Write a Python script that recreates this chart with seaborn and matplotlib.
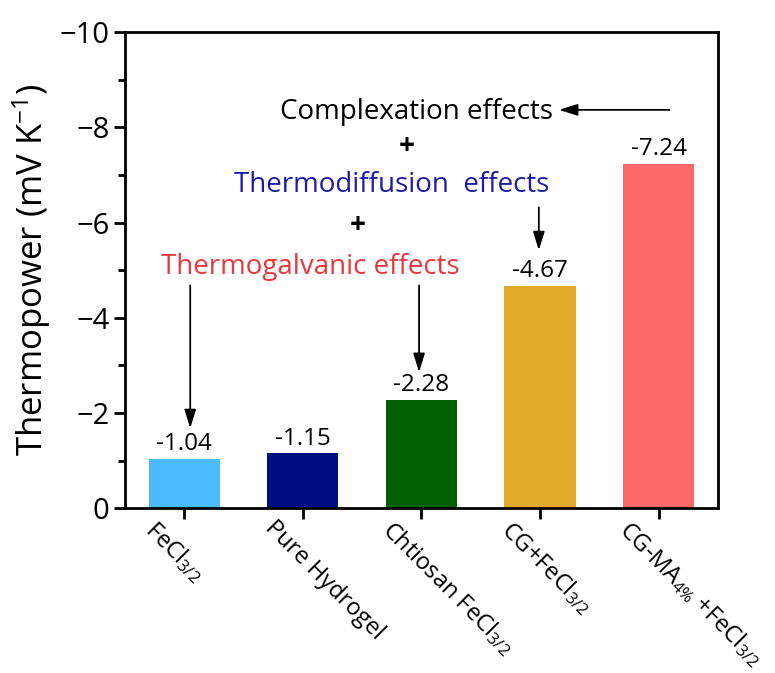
import matplotlib
matplotlib.use("Agg")
import matplotlib.pyplot as plt
import matplotlib.transforms as mtransforms
import seaborn as sns
import numpy as np
import pandas as pd
from matplotlib.ticker import MultipleLocator

categories = ["FeCl$_{3/2}$", "Pure Hydrogel", "Chtiosan FeCl$_{3/2}$",
              "CG+FeCl$_{3/2}$", "CG-MA$_{4\\%}$ +FeCl$_{3/2}$"]
values = [-1.04, -1.15, -2.28, -4.67, -7.24]
value_labels = ["-1.04", "-1.15", "-2.28", "-4.67", "-7.24"]
colors = ["#4CBBFD", "#000E82", "#005F00", "#E3A92A", "#FF6868"]
yticks = [0, -2, -4, -6, -8, -10]
ytick_labels = ["0", "\u22122", "\u22124", "\u22126", "\u22128", "\u221210"]

sns.set_theme(style="ticks")
plt.rcParams["font.family"] = ["Open Sans", "DejaVu Sans"]
plt.rcParams["mathtext.default"] = "regular"
plt.rcParams["text.color"] = "black"
plt.rcParams["axes.labelcolor"] = "black"
plt.rcParams["xtick.color"] = "black"
plt.rcParams["ytick.color"] = "black"

df = pd.DataFrame({"cat": categories, "val": values})

fig = plt.figure(figsize=(7.75, 6.73), dpi=100)
ax = fig.add_axes([0.1613, 0.245, 0.765, 0.707])

sns.barplot(data=df, x="cat", y="val", hue="cat", palette=colors,
            saturation=1, width=0.6, legend=False, ax=ax, edgecolor="none")

ax.set_xlim(-0.5, 4.5)
ax.set_ylim(0, -10)
ax.set_yticks(yticks)
ax.set_yticklabels(ytick_labels)
ax.yaxis.set_minor_locator(MultipleLocator(1))
ax.tick_params(axis="y", which="major", direction="out", length=8, width=2,
               labelsize=21, pad=3, colors="black")
ax.tick_params(axis="y", which="minor", direction="out", length=5, width=2,
               colors="black")
ax.tick_params(axis="x", which="major", direction="out", length=8, width=2,
               labelsize=17, pad=3, colors="black")
for s in ax.spines.values():
    s.set_linewidth(2)
    s.set_color("black")
    s.set_visible(True)

ax.set_xlabel("")
ax.set_ylabel("Thermopower (mV K$^{-1}$)", fontsize=25, labelpad=5,
              color="black")

shift = mtransforms.ScaledTranslation(-0.26, 0.07, fig.dpi_scale_trans)
for lab in ax.get_xticklabels():
    lab.set_rotation(-45)
    lab.set_ha("left")
    lab.set_rotation_mode("anchor")
    lab.set_fontweight("medium")
    lab.set_transform(lab.get_transform() + shift)

for i, (v, t) in enumerate(zip(values, value_labels)):
    ax.annotate(t, xy=(i, v), xytext=(0, 2), textcoords="offset points",
                ha="center", va="bottom", fontsize=17.5, color="black")

ax.text(1.96, -8.33, "Complexation effects", ha="center", va="center",
        fontsize=20, color="black")
ax.text(1.875, -7.61, "+", ha="center", va="center", fontsize=20,
        fontweight="bold", color="black")
ax.text(1.75, -6.79, "Thermodiffusion  effects", ha="center", va="center",
        fontsize=20, color="#1C1CA8")
ax.text(1.46, -5.95, "+", ha="center", va="center", fontsize=20,
        fontweight="bold", color="black")
ax.text(1.06, -5.06, "Thermogalvanic effects", ha="center", va="center",
        fontsize=20, color="#E8383D")

arrow = dict(arrowstyle="-|>,head_length=0.8,head_width=0.25", color="black",
             lw=1.3, mutation_scale=14, shrinkA=0, shrinkB=0)
ax.annotate("", xy=(3.16, -8.37), xytext=(4.09, -8.37), arrowprops=arrow)
ax.annotate("", xy=(0.05, -1.68), xytext=(0.05, -4.68), arrowprops=arrow)
ax.annotate("", xy=(1.98, -2.86), xytext=(1.98, -4.68), arrowprops=arrow)
ax.annotate("", xy=(2.99, -5.42), xytext=(2.99, -6.32), arrowprops=arrow)

fig.savefig("out.png", dpi=100)
